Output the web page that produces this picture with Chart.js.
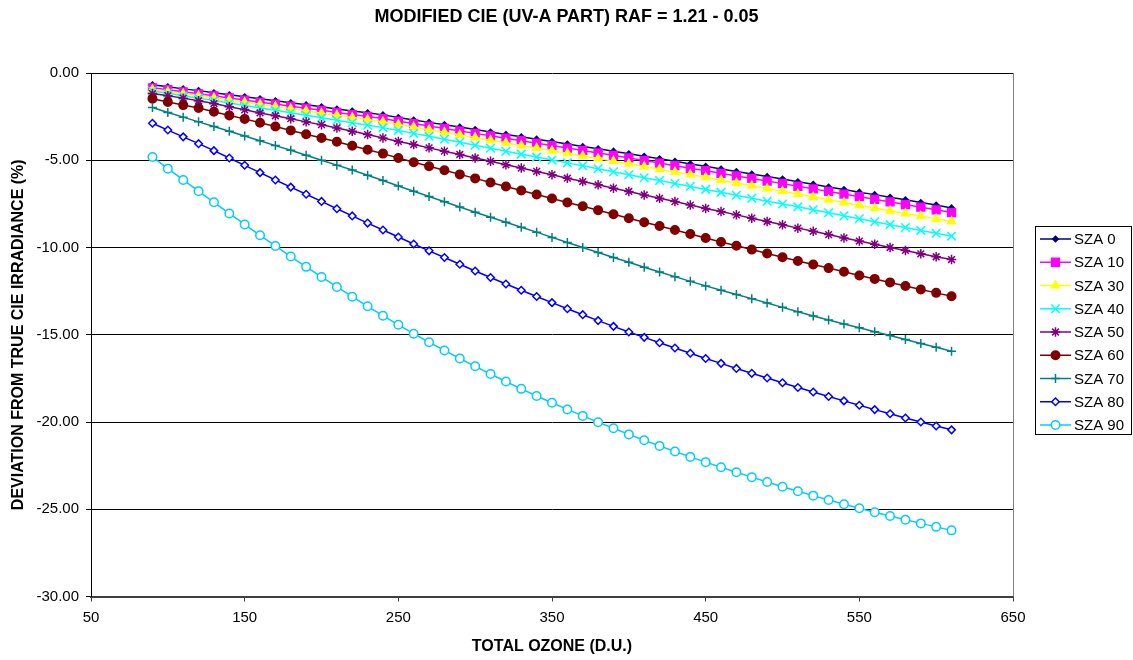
<!DOCTYPE html>
<html>
<head>
<meta charset="utf-8">
<script src="https://cdn.jsdelivr.net/npm/chart.js@4.4.1/dist/chart.umd.min.js"></script>
<style>
  html, body { margin: 0; padding: 0; background: #fff; }
  #wrap { width: 1133px; height: 660px; position: relative; }
</style>
</head>
<body>
<div id="wrap"><canvas id="chart"></canvas></div>
<script>
// Total ozone (D.U.) – x values shared by every series
const ozone = [
  90, 100, 110, 120, 130, 140, 150, 160, 170, 180,
  190, 200, 210, 220, 230, 240, 250, 260, 270, 280,
  290, 300, 310, 320, 330, 340, 350, 360, 370, 380,
  390, 400, 410, 420, 430, 440, 450, 460, 470, 480,
  490, 500, 510, 520, 530, 540, 550, 560, 570, 580,
  590, 600, 610
];

// Deviation from true CIE irradiance (%), one array per solar zenith angle
const sza0 = [
  -0.68, -0.79, -0.91, -1.01, -1.13, -1.25, -1.36, -1.48, -1.59, -1.71,
  -1.82, -1.94, -2.06, -2.18, -2.28, -2.40, -2.55, -2.69, -2.83, -2.96,
  -3.10, -3.24, -3.38, -3.52, -3.65, -3.79, -3.93, -4.07, -4.21, -4.34,
  -4.48, -4.63, -4.77, -4.92, -5.06, -5.21, -5.35, -5.50, -5.65, -5.79,
  -5.93, -6.08, -6.23, -6.38, -6.53, -6.68, -6.83, -6.97, -7.12, -7.27,
  -7.42, -7.57, -7.73
];
const sza10 = [
  -0.85, -0.96, -1.08, -1.19, -1.31, -1.43, -1.55, -1.67, -1.78, -1.90,
  -2.02, -2.14, -2.26, -2.38, -2.49, -2.61, -2.76, -2.90, -3.04, -3.18,
  -3.32, -3.46, -3.60, -3.74, -3.88, -4.02, -4.16, -4.30, -4.44, -4.58,
  -4.72, -4.87, -5.01, -5.16, -5.31, -5.46, -5.60, -5.75, -5.90, -6.04,
  -6.19, -6.34, -6.49, -6.64, -6.79, -6.94, -7.09, -7.24, -7.39, -7.54,
  -7.69, -7.84, -8.00
];
const sza30 = [
  -0.95, -1.07, -1.19, -1.31, -1.43, -1.55, -1.68, -1.80, -1.92, -2.05,
  -2.17, -2.30, -2.42, -2.55, -2.67, -2.80, -2.95, -3.10, -3.25, -3.40,
  -3.55, -3.70, -3.85, -4.00, -4.15, -4.30, -4.45, -4.60, -4.75, -4.90,
  -5.05, -5.20, -5.36, -5.51, -5.67, -5.82, -5.98, -6.14, -6.30, -6.46,
  -6.62, -6.78, -6.94, -7.10, -7.26, -7.42, -7.58, -7.74, -7.89, -8.05,
  -8.20, -8.36, -8.51
];
const sza40 = [
  -1.03, -1.16, -1.30, -1.44, -1.58, -1.72, -1.86, -2.00, -2.14, -2.28,
  -2.42, -2.57, -2.71, -2.85, -2.99, -3.13, -3.29, -3.46, -3.63, -3.80,
  -3.97, -4.14, -4.31, -4.48, -4.65, -4.82, -4.99, -5.15, -5.32, -5.49,
  -5.66, -5.83, -6.00, -6.16, -6.33, -6.50, -6.67, -6.84, -7.01, -7.18,
  -7.35, -7.51, -7.67, -7.84, -8.01, -8.18, -8.35, -8.52, -8.69, -8.85,
  -9.02, -9.18, -9.35
];
const sza50 = [
  -1.18, -1.30, -1.44, -1.59, -1.75, -1.93, -2.11, -2.29, -2.45, -2.62,
  -2.80, -2.96, -3.15, -3.34, -3.53, -3.72, -3.92, -4.10, -4.29, -4.48,
  -4.67, -4.87, -5.06, -5.26, -5.45, -5.64, -5.83, -6.03, -6.22, -6.41,
  -6.60, -6.79, -6.99, -7.18, -7.37, -7.57, -7.76, -7.94, -8.13, -8.32,
  -8.51, -8.70, -8.89, -9.07, -9.26, -9.45, -9.63, -9.81, -10.00, -10.17,
  -10.36, -10.53, -10.69
];
const sza60 = [
  -1.47, -1.66, -1.84, -2.01, -2.22, -2.43, -2.63, -2.85, -3.07, -3.29,
  -3.51, -3.73, -3.94, -4.17, -4.40, -4.62, -4.87, -5.11, -5.34, -5.57,
  -5.81, -6.04, -6.27, -6.50, -6.73, -6.96, -7.19, -7.42, -7.64, -7.86,
  -8.09, -8.32, -8.55, -8.77, -9.00, -9.23, -9.46, -9.68, -9.90, -10.12,
  -10.34, -10.56, -10.77, -10.97, -11.18, -11.39, -11.60, -11.80, -12.00, -12.21,
  -12.41, -12.60, -12.79
];
const sza70 = [
  -1.98, -2.26, -2.53, -2.80, -3.07, -3.34, -3.61, -3.88, -4.16, -4.43,
  -4.71, -5.00, -5.28, -5.56, -5.86, -6.16, -6.48, -6.78, -7.08, -7.38,
  -7.68, -7.98, -8.27, -8.55, -8.84, -9.12, -9.42, -9.71, -10.00, -10.29,
  -10.57, -10.85, -11.13, -11.40, -11.67, -11.94, -12.20, -12.45, -12.69, -12.93,
  -13.18, -13.43, -13.68, -13.92, -14.15, -14.38, -14.60, -14.83, -15.04, -15.27,
  -15.50, -15.72, -15.94
];
const sza80 = [
  -2.88, -3.27, -3.66, -4.05, -4.45, -4.87, -5.29, -5.71, -6.13, -6.54,
  -6.95, -7.36, -7.78, -8.19, -8.60, -9.00, -9.40, -9.80, -10.19, -10.57,
  -10.96, -11.35, -11.72, -12.09, -12.45, -12.81, -13.16, -13.51, -13.85, -14.19,
  -14.52, -14.84, -15.15, -15.46, -15.76, -16.06, -16.36, -16.64, -16.93, -17.21,
  -17.48, -17.75, -18.02, -18.28, -18.54, -18.79, -19.04, -19.29, -19.53, -19.77,
  -20.00, -20.23, -20.45
];
const sza90 = [
  -4.81, -5.48, -6.13, -6.77, -7.41, -8.05, -8.68, -9.30, -9.91, -10.52,
  -11.11, -11.69, -12.26, -12.82, -13.37, -13.91, -14.43, -14.94, -15.43, -15.90,
  -16.36, -16.81, -17.25, -17.68, -18.10, -18.51, -18.90, -19.28, -19.65, -20.01,
  -20.36, -20.71, -21.05, -21.37, -21.69, -22.00, -22.30, -22.59, -22.88, -23.16,
  -23.44, -23.71, -23.97, -24.22, -24.47, -24.71, -24.94, -25.17, -25.39, -25.60,
  -25.81, -26.01, -26.21
];

const seriesLabels = ['SZA 0', 'SZA 10', 'SZA 30', 'SZA 40', 'SZA 50', 'SZA 60', 'SZA 70', 'SZA 80', 'SZA 90'];
const seriesValues = [sza0, sza10, sza30, sza40, sza50, sza60, sza70, sza80, sza90];

// Excel-like look per series: [line colour, marker, radius, marker fill]
const seriesLook = [
  ['#000080', 'rectRot', 2.75, '#000080'],
  ['#FF00FF', 'rect', 5.5, '#FF00FF'],
  ['#FFFF00', 'triangle', 4.5, '#FFFF00'],
  ['#00FFFF', 'crossRot', 6, '#00FFFF'],
  ['#800080', 'star', 4.75, '#800080'],
  ['#800000', 'circle', 4.25, '#800000'],
  ['#008080', 'cross', 4.5, '#008080'],
  ['#0000FF', 'rectRot', 3.75, '#FFFFFF'],
  ['#00CCFF', 'circle', 4.25, '#FFFFFF']
];

const TITLE = 'MODIFIED CIE (UV-A PART) RAF = 1.21 - 0.05';
const FONT = '"Liberation Sans", Arial, sans-serif';

Chart.defaults.font.family = FONT;
Chart.defaults.color = '#000';

const datasets = seriesLabels.map((label, i) => {
  const [color, style, radius, fill] = seriesLook[i];
  return {
    label: label,
    data: ozone.map((x, k) => ({ x: x, y: seriesValues[i][k] })),
    borderColor: color,
    backgroundColor: color,
    borderWidth: 1.5,
    pointStyle: style,
    pointRadius: radius,
    pointHoverRadius: radius,
    pointBackgroundColor: fill,
    pointBorderColor: color,
    pointBorderWidth: 1.5,
    tension: 0,
    fill: false,
    order: seriesLabels.length - i   // later series on top, like Excel
  };
});

// chart title, centred on the whole canvas
const pageTitle = {
  id: 'pageTitle',
  afterDraw(chart) {
    const { ctx, width } = chart;
    ctx.save();
    ctx.fillStyle = '#000';
    ctx.font = 'bold 18px ' + FONT;
    ctx.textAlign = 'center';
    ctx.textBaseline = 'middle';
    ctx.fillText(TITLE, width / 2, 17);
    ctx.restore();
  }
};

// right-hand edge of the plot area (grey frame line)
const plotFrame = {
  id: 'plotFrame',
  beforeDatasetsDraw(chart) {
    const { ctx, chartArea: a } = chart;
    ctx.save();
    ctx.strokeStyle = '#808080';
    ctx.lineWidth = 1;
    ctx.beginPath();
    ctx.moveTo(Math.round(a.right) + 0.5, a.top);
    ctx.lineTo(Math.round(a.right) + 0.5, a.bottom);
    ctx.stroke();
    ctx.restore();
  }
};

// boxed legend with line + marker samples
const boxLegend = {
  id: 'boxLegend',
  afterDraw(chart) {
    const { ctx } = chart;
    const x0 = 1035, y0 = 226, w = 96, h = 208, row = 23.25;
    ctx.save();
    ctx.fillStyle = '#fff';
    ctx.fillRect(x0, y0, w, h);
    ctx.strokeStyle = '#000';
    ctx.lineWidth = 1;
    ctx.strokeRect(x0 + 0.5, y0 + 0.5, w, h);
    chart.data.datasets.forEach((d, i) => {
      const y = y0 + 13 + i * row;
      ctx.strokeStyle = d.borderColor;
      ctx.lineWidth = d.borderWidth;
      ctx.beginPath();
      ctx.moveTo(x0 + 5, y);
      ctx.lineTo(x0 + 36, y);
      ctx.stroke();
      ctx.fillStyle = d.pointBackgroundColor;
      ctx.strokeStyle = d.pointBorderColor;
      ctx.lineWidth = d.pointBorderWidth;
      Chart.helpers.drawPoint(ctx, {
        pointStyle: d.pointStyle, radius: d.pointRadius, rotation: 0, borderWidth: d.pointBorderWidth
      }, x0 + 20.5, y);
      ctx.fillStyle = '#000';
      ctx.font = '15px ' + FONT;
      ctx.textBaseline = 'middle';
      ctx.textAlign = 'left';
      ctx.fillText(d.label, x0 + 39, y + 1);
    });
    ctx.restore();
  }
};

new Chart(document.getElementById('chart'), {
  type: 'line',
  data: { datasets: datasets },
  plugins: [plotFrame, boxLegend, pageTitle],
  options: {
    responsive: true,
    maintainAspectRatio: false,
    animation: false,
    layout: { padding: { left: 0, right: 120, top: 73, bottom: 0 } },
    plugins: {
      legend: { display: false },
      tooltip: { enabled: false },
      title: { display: false }
    },
    scales: {
      x: {
        type: 'linear',
        min: 50,
        max: 650,
        ticks: { stepSize: 100, color: '#000', font: { size: 15 }, padding: 7, maxRotation: 0 },
        grid: { drawOnChartArea: false, drawTicks: true, tickLength: 5, color: '#404040' },
        border: { color: '#404040', width: 2 },
        title: {
          display: true, text: 'TOTAL OZONE (D.U.)', color: '#000',
          font: { size: 16, weight: 'bold' }, padding: { top: 0, bottom: 4 }
        },
        afterFit(s) { s.height = 63.5; }
      },
      y: {
        min: -30,
        max: 0,
        ticks: { stepSize: 5, color: '#000', font: { size: 15 }, padding: 7, callback: v => v.toFixed(2) },
        grid: { color: '#000', lineWidth: 1, tickLength: 5 },
        border: { color: '#000', width: 1 },
        title: {
          display: true, text: 'DEVIATION FROM TRUE CIE IRRADIANCE (%)', color: '#000',
          font: { size: 16, weight: 'bold' }, padding: { top: 9, bottom: 0 }
        },
        afterFit(s) { s.width = 91; }
      }
    }
  }
});
</script>
</body>
</html>
